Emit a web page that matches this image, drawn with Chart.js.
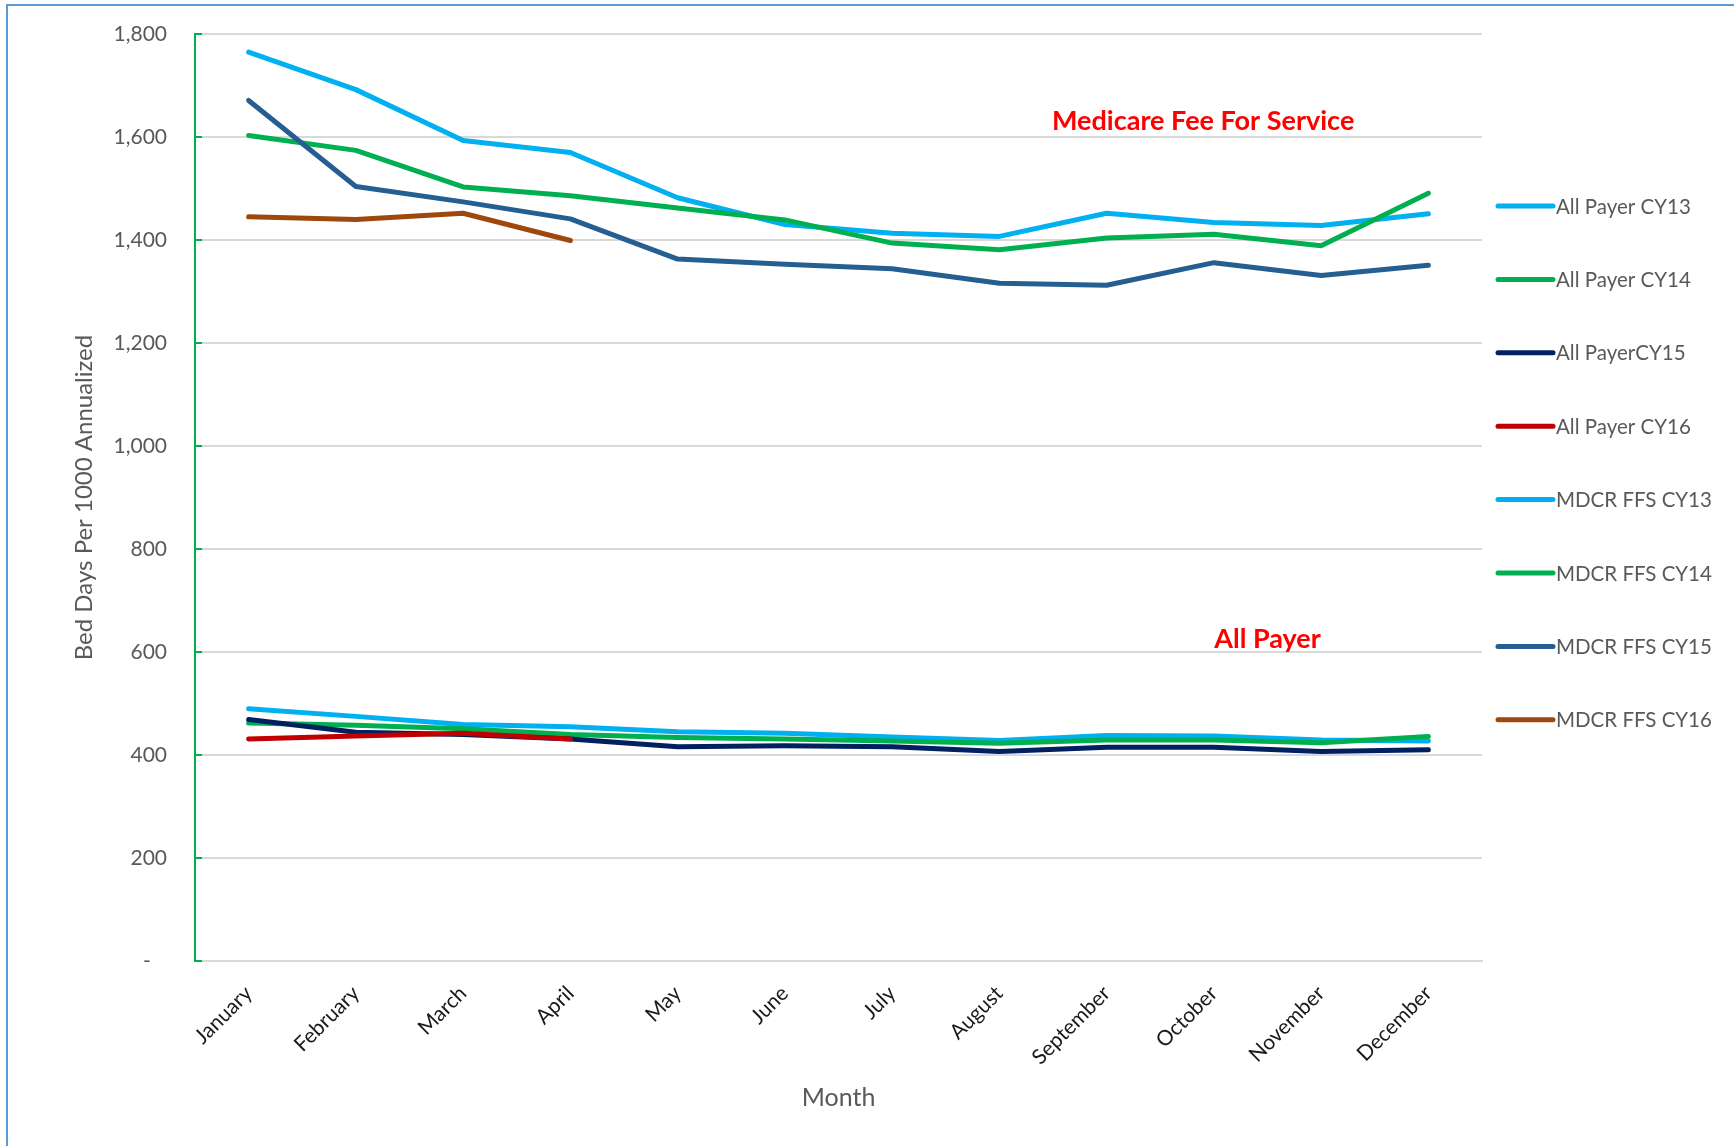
<!DOCTYPE html>
<html>
<head>
<meta charset="utf-8">
<script src="https://cdn.jsdelivr.net/npm/chart.js@4.4.1/dist/chart.umd.min.js"></script>
<style>
  html, body { margin: 0; padding: 0; background: #ffffff; }
  #wrap { width: 1734px; height: 1146px; position: relative; }
</style>
</head>
<body>
<div id="wrap"><canvas id="c"></canvas></div>
<script>
// ---- Data ----
const months = ['January','February','March','April','May','June','July','August','September','October','November','December'];
const seriesNames = ['All Payer CY13','All Payer CY14','All PayerCY15','All Payer CY16','MDCR FFS CY13','MDCR FFS CY14','MDCR FFS CY15','MDCR FFS CY16'];
const allPayerCY13 = [490, 475, 459, 455, 445, 442, 435, 428, 438, 437, 429, 427];
const allPayerCY14 = [462, 458, 451, 440, 434, 431, 427, 423, 429, 429, 424, 436];
const allPayerCY15 = [469, 444, 440, 431, 416, 418, 416, 407, 415, 415, 407, 410];
const allPayerCY16 = [431, 437, 442, 431];
const mdcrFfsCY13 = [1765, 1692, 1593, 1570, 1482, 1430, 1413, 1407, 1452, 1434, 1428, 1451];
const mdcrFfsCY14 = [1603, 1574, 1503, 1486, 1462, 1439, 1394, 1381, 1404, 1411, 1389, 1491];
const mdcrFfsCY15 = [1671, 1504, 1474, 1441, 1363, 1353, 1344, 1316, 1312, 1356, 1331, 1351];
const mdcrFfsCY16 = [1445, 1440, 1452, 1399];
const yTickValues = [0, 200, 400, 600, 800, 1000, 1200, 1400, 1600, 1800];
const annotations = [
  { text: 'Medicare Fee For Service', cat: 8.9, value: 1630 },
  { text: 'All Payer', cat: 9.5, value: 625 }
];

// ---- Styles ----
const colors = ['#00B0F0','#00B050','#002060','#C00000','#00B0F0','#00B050','#255E91','#9E480E'];
const seriesValues = [allPayerCY13, allPayerCY14, allPayerCY15, allPayerCY16, mdcrFfsCY13, mdcrFfsCY14, mdcrFfsCY15, mdcrFfsCY16];
const FONT = 'Lato, "Liberation Sans", sans-serif';

const datasets = seriesValues.map((vals, i) => ({
  label: seriesNames[i],
  data: vals,
  borderColor: colors[i],
  backgroundColor: colors[i],
  borderWidth: 5,
  pointRadius: 0,
  pointHoverRadius: 0,
  tension: 0,
  fill: false,
  borderCapStyle: 'round',
  borderJoinStyle: 'round',
  order: seriesValues.length - i
}));

const decorPlugin = {
  id: 'decor',
  beforeDraw(chart) {
    const ctx = chart.ctx;
    ctx.save();
    ctx.fillStyle = '#ffffff';
    ctx.fillRect(0, 0, chart.width, chart.height);
    ctx.strokeStyle = '#5B9BD5';
    ctx.lineWidth = 2;
    ctx.strokeRect(7, 5, chart.width + 20, chart.height + 20);
    ctx.restore();
  },
  afterDatasetsDraw(chart) {
    const ctx = chart.ctx;
    const xs = chart.scales.x, ys = chart.scales.y;
    ctx.save();
    // small green tick marks on y axis
    ctx.strokeStyle = '#00B050';
    ctx.lineWidth = 2;
    ys.ticks.forEach(t => {
      const py = ys.getPixelForValue(t.value);
      ctx.beginPath();
      ctx.moveTo(xs.left, py);
      ctx.lineTo(xs.left + 7, py);
      ctx.stroke();
    });
    // annotations
    ctx.fillStyle = '#FF0000';
    ctx.font = 'bold 27px ' + FONT;
    ctx.textAlign = 'center';
    ctx.textBaseline = 'middle';
    annotations.forEach(a => {
      const px = xs.left + (a.cat + 0.5) * (xs.right - xs.left) / months.length;
      const py = ys.getPixelForValue(a.value);
      ctx.fillText(a.text, px, py);
    });
    ctx.restore();
  },
  afterDraw(chart) {
    const ctx = chart.ctx;
    ctx.save();
    const x0 = 1498, len = 55, top0 = 206, step = 73.4;
    ctx.font = '20.5px ' + FONT;
    ctx.textAlign = 'left';
    ctx.textBaseline = 'middle';
    chart.data.datasets.forEach((ds, i) => {
      const y = top0 + i * step;
      ctx.strokeStyle = ds.borderColor;
      ctx.lineWidth = 5;
      ctx.lineCap = 'round';
      ctx.beginPath();
      ctx.moveTo(x0, y);
      ctx.lineTo(x0 + len, y);
      ctx.stroke();
      ctx.fillStyle = '#595959';
      ctx.fillText(ds.label, x0 + len + 3, y + 1);
    });
    ctx.restore();
  }
};

new Chart(document.getElementById('c'), {
  type: 'line',
  data: { labels: months, datasets },
  plugins: [decorPlugin],
  options: {
    responsive: true,
    maintainAspectRatio: false,
    devicePixelRatio: 1,
    animation: false,
    layout: { padding: { top: 34, right: 252, bottom: 0, left: 0 } },
    plugins: { legend: { display: false }, tooltip: { enabled: false } },
    scales: {
      x: {
        type: 'category',
        offset: true,
        grid: { display: false },
        border: { display: true, color: '#D9D9D9', width: 2 },
        ticks: {
          autoSkip: false,
          minRotation: 45,
          maxRotation: 45,
          padding: 12,
          color: '#1a1a1a',
          font: { family: FONT, size: 21 }
        },
        title: {
          display: true,
          text: 'Month',
          color: '#595959',
          font: { family: FONT, size: 25 },
          padding: { top: 0, bottom: 33 }
        },
        afterFit(s) { s.height = 185; s.paddingLeft = 0; s.paddingRight = 0; }
      },
      y: {
        min: 0,
        max: 1800,
        afterBuildTicks(s) { s.ticks = yTickValues.map(v => ({ value: v })); },
        grid: { color: '#D9D9D9', lineWidth: 2, drawTicks: false },
        border: { display: true, color: '#00B050', width: 2 },
        ticks: {
          padding: 28,
          color: '#595959',
          font: { family: FONT, size: 21 },
          callback: v => v === 0 ? '-   ' : v.toLocaleString('en-US')
        },
        title: {
          display: true,
          text: 'Bed Days Per 1000 Annualized',
          color: '#595959',
          font: { family: FONT, size: 24 },
          padding: { top: 70, bottom: 0 }
        },
        afterFit(s) { s.width = 195; s.paddingTop = 0; s.paddingBottom = 0; }
      }
    }
  }
});
</script>
</body>
</html>
